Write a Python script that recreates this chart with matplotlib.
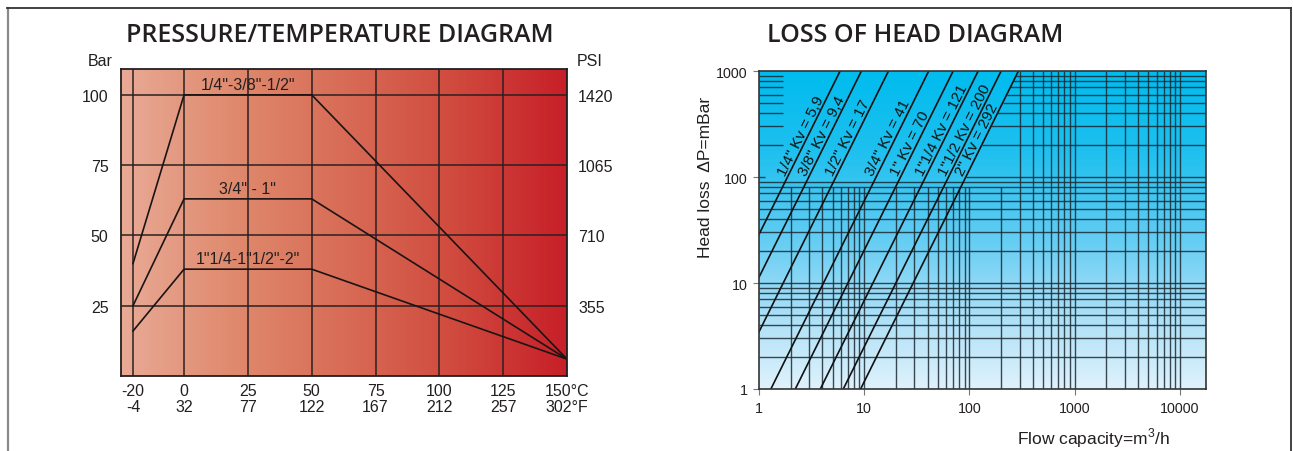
import numpy as np
import matplotlib.pyplot as plt
from matplotlib.colors import LinearSegmentedColormap
from matplotlib.lines import Line2D

plt.rcParams["font.family"] = ["Liberation Sans", "DejaVu Sans"]
plt.rcParams["mathtext.fontset"] = "custom"
plt.rcParams["mathtext.rm"] = "Liberation Sans"

# pressure / temperature data
temp_c = [-20, 0, 25, 50, 75, 100, 125, 150]
temp_f = [-4, 32, 77, 122, 167, 212, 257, 302]
bar_ticks = [25, 50, 75, 100]
psi_ticks = [355, 710, 1065, 1420]
curve_temps = [-20, 0, 50, 150]
curve_small = [40, 100, 100, 6]
curve_mid = [25, 63, 63, 6]
curve_large = [16, 38, 38, 6]
curve_labels = ['1/4"-3/8"-1/2"', '3/4" - 1"', '1"1/4-1"1/2"-2"']
curve_label_bar = [101, 64, 39]

# loss of head data
sizes = ['1/4"', '3/8"', '1/2"', '3/4"', '1"', '1"1/4', '1"1/2', '2"']
kv_values = [5.9, 9.4, 17, 41, 70, 121, 200, 292]
kv_text = ["5,9", "9,4", "17", "41", "70", "121", "200", "292"]
dp_range = [1, 1000]
flow_ticks = [1, 10, 100, 1000, 10000]
dp_ticks = [1, 10, 100, 1000]

W, H = 1293, 452
fig = plt.figure(figsize=(W / 100, H / 100), dpi=100)


def px(x, y, w, h):
    return [x / W, 1 - (y + h) / H, w / W, h / H]


def frame():
    fig.add_artist(Line2D([7.5 / W, 7.5 / W], [0, 1 - 9 / H], color="#8a8a8a", lw=1.6))
    fig.add_artist(Line2D([7 / W, 1291 / W], [1 - 9 / H, 1 - 9 / H], color="#333333", lw=1.3))
    fig.add_artist(Line2D([1291 / W, 1291 / W], [0, 1 - 9 / H], color="#333333", lw=1.3))


def pressure_chart():
    pos = px(121, 70, 446, 307)
    bg = fig.add_axes(pos, zorder=0)
    reds = LinearSegmentedColormap.from_list(
        "reds", ["#E9AA96", "#DF8A6E", "#D86C56", "#D04A3E", "#C71F28"])
    bg.imshow(np.linspace(0, 1, 256).reshape(1, -1), cmap=reds, aspect="auto",
              extent=(0, 1, 0, 1))
    bg.axis("off")

    ax = fig.add_axes(pos, zorder=1)
    ax.set_facecolor("none")
    ax.set_xlim(-24.7, 150)
    ax.set_ylim(0, 109.2)
    ax.set_xticks(temp_c)
    labels = [f"{c}\n{f}" for c, f in zip(temp_c, temp_f)]
    labels[-1] = f"{temp_c[-1]}°C\n{temp_f[-1]}°F"
    ax.set_xticklabels(labels, linespacing=1.05)
    ax.set_yticks(bar_ticks)
    ax.tick_params(length=0, labelsize=11.5, colors="#231F20")
    ax.tick_params(axis="x", pad=5)
    ax.tick_params(axis="y", pad=9)
    ax.grid(True, color="#2b2020", lw=1.1)
    for s in ax.spines.values():
        s.set_color("#231F20")
        s.set_linewidth(1.3)

    for vals in (curve_small, curve_mid, curve_large):
        ax.plot(curve_temps, vals, color="#1a1414", lw=1.2)
    for txt, yb in zip(curve_labels, curve_label_bar):
        ax.text(25, yb, txt, ha="center", va="bottom", fontsize=11.5, color="#231F20")

    twin = ax.twinx()
    twin.set_ylim(ax.get_ylim())
    twin.set_yticks(bar_ticks, labels=[str(p) for p in psi_ticks])
    twin.tick_params(length=0, labelsize=11.5, pad=8, colors="#231F20")
    for s in twin.spines.values():
        s.set_visible(False)

    fig.text(113 / W, 1 - 62 / H, "Bar", ha="right", va="center", fontsize=11.5, color="#231F20")
    fig.text(577 / W, 1 - 62 / H, "PSI", ha="left", va="center", fontsize=11.5, color="#231F20")
    fig.text(340 / W, 1 - 36 / H, "PRESSURE/TEMPERATURE DIAGRAM", ha="center", va="center",
             fontsize=18, fontweight="semibold", family="Open Sans", color="#231F20")


def head_loss_chart():
    pos = px(759, 72, 446.5, 318)
    bg = fig.add_axes(pos, zorder=0)
    blues = LinearSegmentedColormap.from_list(
        "blues", ["#E0F2FC", "#A6DEF7", "#5BCBF3", "#1EC0EF", "#00BCEE"])
    bg.imshow(np.linspace(0, 1, 256).reshape(-1, 1), cmap=blues, aspect="auto",
              origin="lower", extent=(0, 1, 0, 1))
    bg.axis("off")

    ax = fig.add_axes(pos, zorder=1)
    ax.set_facecolor("none")
    ax.set_xscale("log")
    ax.set_yscale("log")
    xmax = 17500
    ax.set_xlim(1, xmax)
    ax.set_ylim(1, 1000)

    # grid, left open where the size labels sit
    steps = [m * 10 ** k for k in range(5) for m in range(1, 10)]
    gc = "#1c2a33"
    for q in steps[1:]:
        if q > xmax:
            continue
        top = 1000 if q >= 300 else 80
        ax.vlines(q, 1, top, color=gc, lw=1.0, alpha=0.85)
    for p in steps[1:]:
        if p >= 1000:
            continue
        if p < 100:
            ax.hlines(p, 1, xmax, color=gc, lw=1.0, alpha=0.85)
        else:
            start = kv_values[-1] * np.sqrt(p / 1000)
            ax.hlines(p, start, xmax, color=gc, lw=1.0, alpha=0.85)
            ax.hlines(p, 1, 1.7 if p > 100 else 1.15, color=gc, lw=1.0, alpha=0.85)

    # lines of constant Kv: dp[mbar] = 1000 (Q / Kv)^2
    dp = np.array(dp_range, dtype=float)
    for kv in kv_values:
        ax.plot(kv * np.sqrt(dp / 1000), dp, color="#111111", lw=1.2)

    fig.canvas.draw()
    bb = ax.get_window_extent()
    xpd = bb.width / np.log10(xmax)
    ypd = bb.height / 3
    ang = np.degrees(np.arctan2(2 * ypd, xpd))
    nx, ny = -np.sin(np.radians(ang)), np.cos(np.radians(ang))
    for size, kv, t in zip(sizes, kv_values, kv_text):
        p0 = 100
        ax.annotate(f"{size} Kv = {t}", xy=(kv * np.sqrt(p0 / 1000), p0),
                    xytext=(3 * nx, 3 * ny), textcoords="offset pixels",
                    rotation=ang, rotation_mode="anchor", ha="left", va="baseline",
                    fontsize=11, color="#111111")

    ax.set_xticks(flow_ticks, labels=[str(v) for v in flow_ticks])
    ax.set_yticks(dp_ticks, labels=[str(v) for v in dp_ticks])
    ax.minorticks_off()
    ax.tick_params(direction="out", length=4, width=0.8, color="#777777",
                   labelsize=10.3, colors="#231F20")
    ax.tick_params(axis="x", pad=5)
    ax.tick_params(axis="y", pad=4)
    ax.tick_params(axis="both", which="both", color="#777777")
    for s in ax.spines.values():
        s.set_color("#333333")
        s.set_linewidth(1.2)

    fig.text(705 / W, 1 - 177 / H, "Head loss  ΔP=mBar", rotation=90, ha="center",
             va="center", fontsize=12.5, color="#231F20")
    fig.text(1017 / W, 1 - 438 / H, "Flow capacity=m$^3$/h", ha="left", va="center",
             fontsize=12.5, color="#231F20")
    fig.text(915 / W, 1 - 36 / H, "LOSS OF HEAD DIAGRAM", ha="center", va="center",
             fontsize=18, fontweight="semibold", family="Open Sans", color="#231F20")


frame()
pressure_chart()
head_loss_chart()
fig.savefig("out.png", dpi=100)
